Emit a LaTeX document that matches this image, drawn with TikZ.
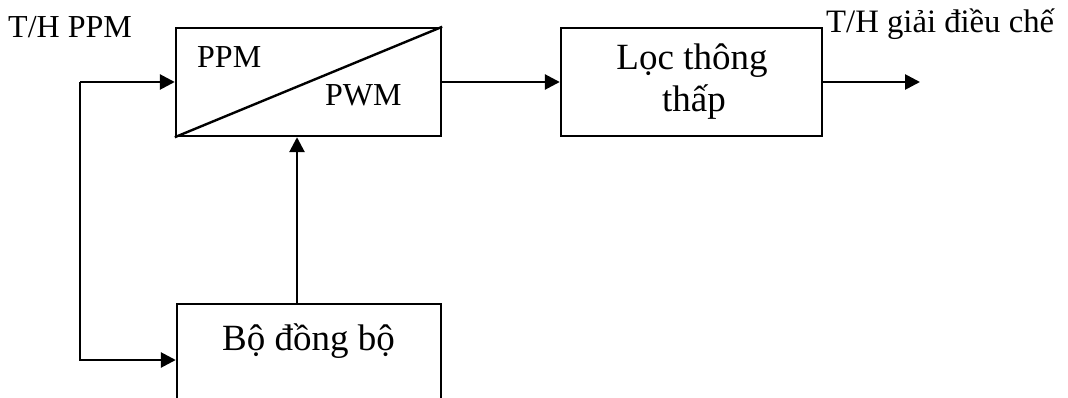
\documentclass[tikz,border=0pt]{standalone}
\usepackage{fontspec}
\setmainfont{Liberation Serif}
\usetikzlibrary{arrows.meta}
\begin{document}
\begin{tikzpicture}[x=1pt,y=-1pt,
  blockbox/.style={draw,line width=2.4pt,rectangle,inner sep=0pt},
  arr/.style={line width=2.7pt,line join=miter,-{Triangle[length=15pt,width=15pt]}},
  lbl/.style={inner sep=0pt,font=\fontsize{32}{38}\selectfont},
  biglbl/.style={inner sep=0pt,font=\fontsize{37}{42}\selectfont}]
  \useasboundingbox (0,0) rectangle (1068,398);
  \clip (0,0) rectangle (1068,398);

  % converter block with its diagonal split
  \node[blockbox,minimum width=265pt,minimum height=108pt] (conv) at (308.5,82) {};
  \draw[line width=2.4pt] (conv.south west) -- (conv.north east);
  \node[lbl,anchor=base west] (ppm) at (197,68) {PPM};
  \node[lbl,anchor=base west] (pwm) at (325,106) {PWM};

  % low-pass filter
  \node[blockbox,minimum width=261pt,minimum height=108pt] (lpf) at (691.5,82) {};
  \node[biglbl,anchor=base] (lpfa) at (692,70) {Lọc thông};
  \node[biglbl,anchor=base] (lpfb) at (694,112) {thấp};

  % synchroniser (runs past the lower edge)
  \node[blockbox,minimum width=264pt,minimum height=112pt] (sync) at (309,360) {};
  \node[biglbl,anchor=base] (synct) at (308.5,350) {Bộ đồng bộ};

  % signal labels
  \node[lbl,anchor=base west] (inlbl) at (8,38) {T/H PPM};
  \node[lbl,anchor=base west,font=\fontsize{32.7}{38}\selectfont] (outlbl) at (826,33) {T/H giải điều chế};

  % connectors
  \coordinate (tap) at (80,82);
  \coordinate (out) at (920,82);
  \draw[arr] (tap) -- (conv.west);
  \draw[arr] (tap) |- (sync.west);
  \draw[arr] ([xshift=-12pt]sync.north) -- ([xshift=-11.5pt]conv.south);
  \draw[arr] (conv.east) -- (lpf.west);
  \draw[arr] (lpf.east) -- (out);
\end{tikzpicture}
\end{document}
